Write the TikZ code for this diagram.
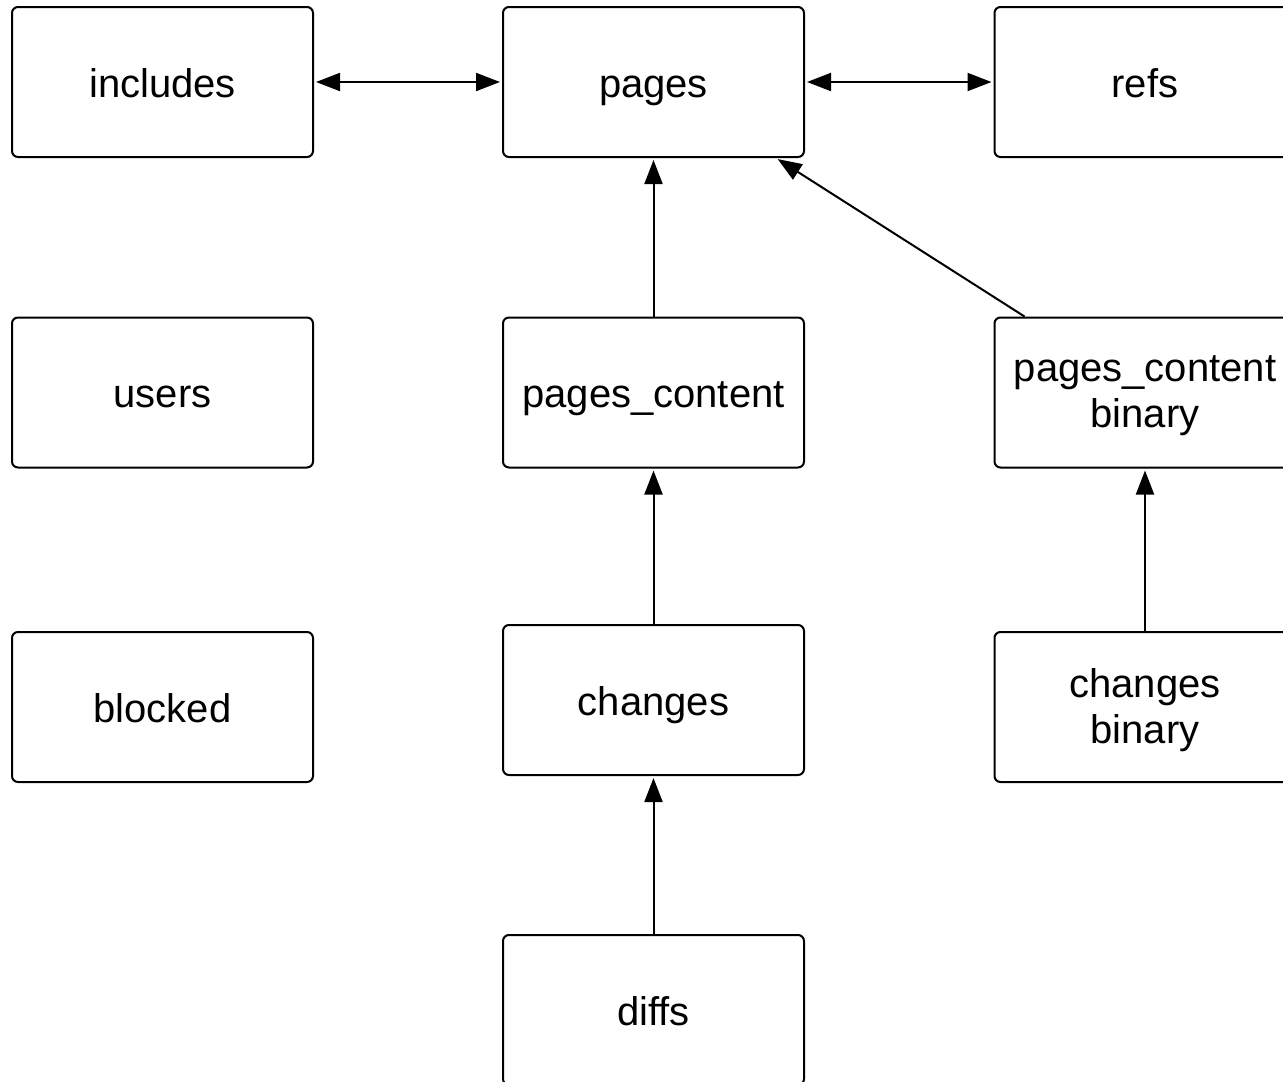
\documentclass[tikz,border=0pt]{standalone}
\usepackage{fontspec}
\setmainfont{Liberation Sans}
\usetikzlibrary{arrows.meta,calc}
\begin{document}
\begin{tikzpicture}[x=1pt,y=-1pt,
  tbl/.style={draw=black,line width=2pt,rounded corners=6pt,minimum width=301pt,minimum height=150pt,
    inner sep=0pt,align=center,font=\fontsize{40}{46}\selectfont},
  oneline/.style={tbl,text height=30pt,text depth=0pt},
  twoline/.style={tbl,text depth=2pt},
  conn/.style={line width=2pt,-{Triangle[length=24pt,width=18pt]},shorten >=2pt},
  biconn/.style={line width=2pt,{Triangle[length=24pt,width=18pt]}-{Triangle[length=24pt,width=18pt]},shorten >=2pt,shorten <=2pt}]
\useasboundingbox (0,0) rectangle (1283,1082);
\node[oneline] (includes) at (162.5,82) {includes};
\node[oneline] (pages) at (653.5,82) {pages};
\node[oneline] (refs) at (1145,82) {refs};
\node[oneline] (users) at (162.5,392.5) {users};
\node[oneline] (pc) at (653.5,392.5) {pages\_content};
\node[twoline] (pcb) at (1145,392.5) {pages\_content\\binary};
\node[oneline] (blocked) at (162.5,707) {blocked};
\node[oneline] (changes) at (653.5,700) {changes};
\node[twoline] (cb) at (1145,707) {changes\\binary};
\node[oneline] (diffs) at (653.5,1010) {diffs};
\draw[biconn] (includes.east) -- (pages.west);
\draw[biconn] (pages.east) -- (refs.west);
\draw[conn] (pc.north) -- (pages.south);
\draw[conn] ([xshift=31pt]pcb.north west) -- ([xshift=-29pt]pages.south east);
\draw[conn] (changes.north) -- (pc.south);
\draw[conn] (cb.north) -- (pcb.south);
\draw[conn] (diffs.north) -- (changes.south);
\end{tikzpicture}
\end{document}
